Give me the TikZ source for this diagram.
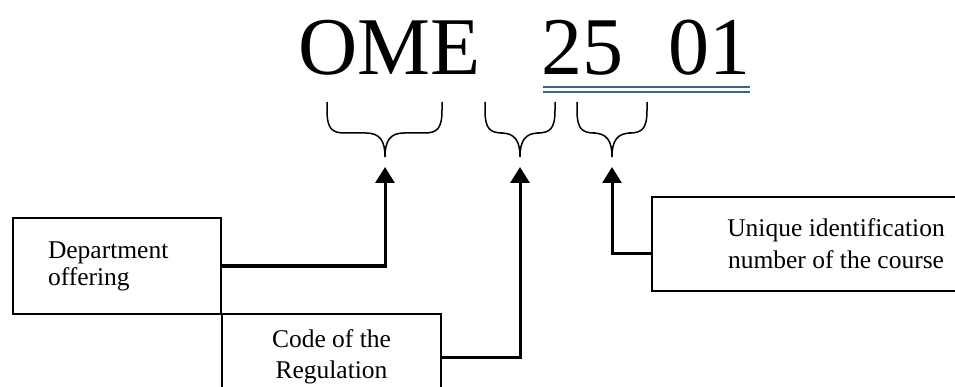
\documentclass[tikz,border=0pt]{standalone}
\usepackage{fontspec}
\setmainfont{Liberation Serif}
\usetikzlibrary{arrows.meta}
\definecolor{ulblue}{RGB}{55,100,145}
\newcommand{\ubrace}[3]{%
  \draw[bracestyle] (#1,102) -- (#1,110) .. controls (#1,129) and (#1+5,133) .. (#1+18,133)
    -- (#3-19,133) .. controls (#3-5,133) and (#3,141) .. (#3,157)
    .. controls (#3,141) and (#3+5,133) .. (#3+19,133)
    -- (#2-18,133) .. controls (#2-5,133) and (#2,129) .. (#2,110) -- (#2,102);}
\begin{document}
\begin{tikzpicture}[x=1pt,y=-1pt,
  box/.style={draw,line width=1.4pt,inner sep=0pt},
  conn/.style={line width=3pt,-{Triangle[length=16pt,width=19pt]}},
  bracestyle/.style={line width=1.5pt},
  ulline/.style={draw=ulblue,line width=1.6pt},
  title/.style={anchor=base west,inner sep=0pt,font=\fontsize{82}{90}\selectfont}]
\clip (0,0) rectangle (955,387);
\fill[white] (0,0) rectangle (955,387);
% title
\node[title] (ome) at (298,75) {OME};
\node[title] (n25) at (541,75) {25};
\node[title] (n01) at (668,75) {01};
\draw[ulline] (543,87) -- (750,87);
\draw[ulline] (543,92) -- (750,92);
% braces
\ubrace{327}{442}{385}
\ubrace{485}{555}{520}
\ubrace{577}{647}{612}
\coordinate (t1) at (385,167);
\coordinate (t2) at (520,167);
\coordinate (t3) at (612,167);
% boxes
\node[box, minimum width=208pt, minimum height=96pt, text width=138pt, align=left,
  font=\fontsize{25.5}{27}\selectfont] (dept) at (117,266) {Department\\offering};
\node[box, minimum width=219pt, minimum height=86pt, align=center,
  font=\fontsize{25.5}{31}\selectfont] (code) at (331.5,357) {Code of the\\Regulation};
\node[box, minimum width=368pt, minimum height=94pt, align=center,
  font=\fontsize{25.5}{32}\selectfont] (unique) at (836,244) {Unique identification\\number of the course};
% connectors
\draw[conn] (dept.east) -| (t1);
\draw[conn] (code.east) -| (t2);
\draw[conn] ([yshift=-10pt]unique.west) -| (t3);
\end{tikzpicture}
\end{document}
